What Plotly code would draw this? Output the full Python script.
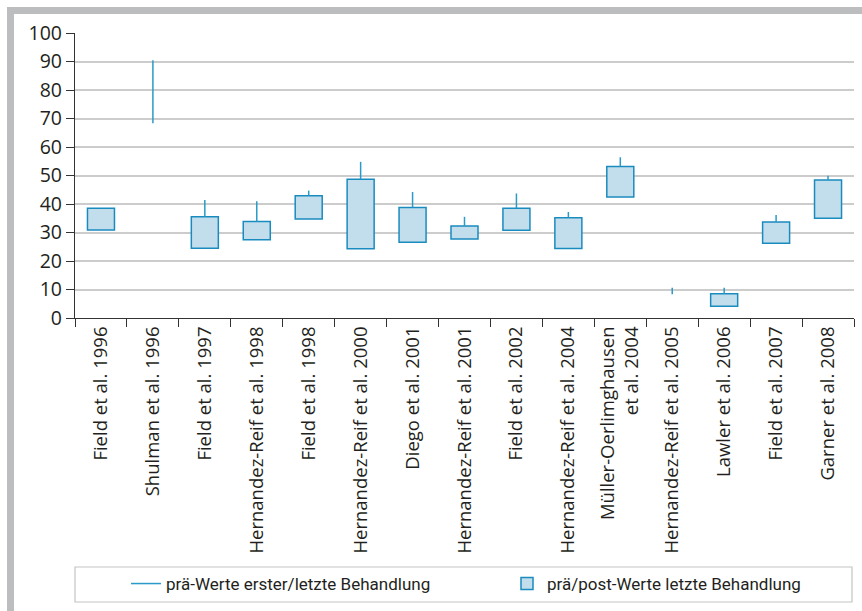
import plotly.graph_objects as go

categories = [
    "Field et al. 1996", "Shulman et al. 1996", "Field et al. 1997",
    "Hernandez-Reif et al. 1998", "Field et al. 1998", "Hernandez-Reif et al. 2000",
    "Diego et al. 2001", "Hernandez-Reif et al. 2001", "Field et al. 2002",
    "Hernandez-Reif et al. 2004", "Müller-Oerlimghausen<br>et al. 2004",
    "Hernandez-Reif et al. 2005", "Lawler et al. 2006", "Field et al. 2007",
    "Garner et al. 2008",
]
# prä/post-Werte letzte Behandlung (box bottom / top); None = no box
box_low = [30.9, None, 24.5, 27.5, 34.7, 24.3, 26.6, 27.7, 30.8, 24.4, 42.5, None, 4.1, 26.2, 35.0]
box_high = [38.5, None, 35.5, 33.9, 42.9, 48.7, 38.8, 32.3, 38.5, 35.2, 53.2, None, 8.5, 33.7, 48.4]
# prä-Werte erster/letzte Behandlung (line low / high); None = no line
line_low = [None, 68.3, 35.5, 33.9, 42.9, 48.7, 38.8, 32.3, 38.5, 35.2, 53.2, 8.3, 8.5, 33.7, 48.4]
line_high = [None, 90.4, 41.4, 41.0, 44.7, 54.8, 44.2, 35.5, 43.7, 37.2, 56.4, 10.6, 10.6, 36.1, 49.9]
y_ticks = [0, 10, 20, 30, 40, 50, 60, 70, 80, 90, 100]

LINE_C = "#2a9ac8"
BOX_FILL = "#c2deed"
BOX_LINE = "#1a8bbf"
TXT = "#231f20"

lx, ly = [], []
for c, lo, hi in zip(categories, line_low, line_high):
    if lo is None:
        continue
    lx += [c, c, None]
    ly += [lo, hi, None]

bx, bb, bh = [], [], []
for c, lo, hi in zip(categories, box_low, box_high):
    if lo is None:
        continue
    bx.append(c)
    bb.append(lo)
    bh.append(hi - lo)

fig = go.Figure()
fig.add_trace(go.Scatter(
    x=lx, y=ly, mode="lines", line=dict(color=LINE_C, width=1.5),
    name="prä-Werte erster/letzte Behandlung", hoverinfo="skip", legend="legend",
))
fig.add_trace(go.Bar(
    x=bx, y=bh, base=bb, width=0.52,
    marker=dict(color=BOX_FILL, line=dict(color=BOX_LINE, width=1.5)),
    name="prä/post-Werte letzte Behandlung", legend="legend2",
))

W, H = 862, 611
ml, mr, mt, mb = 75, 8, 33, 293
pw, ph = W - ml - mr, H - mt - mb

def px(x):
    return (x - ml) / pw

def py(y):
    return (H - mb - y) / ph

shapes = [
    # grey frame
    dict(type="rect", xref="paper", yref="paper", x0=px(7), x1=px(14), y0=py(611), y1=py(7),
         fillcolor="#bcbdbf", line=dict(width=0), layer="below"),
    dict(type="rect", xref="paper", yref="paper", x0=px(7), x1=px(862), y0=py(14), y1=py(7),
         fillcolor="#bcbdbf", line=dict(width=0), layer="below"),
    # legend border
    dict(type="rect", xref="paper", yref="paper", x0=px(75), x1=px(852), y0=py(602), y1=py(567),
         fillcolor="rgba(0,0,0,0)", line=dict(color="#c4c4c4", width=1.2)),
]

leg_font = dict(family="Liberation Sans Narrow, Arial Narrow, Roboto, sans-serif", size=17, color=TXT)

fig.update_layout(
    width=W, height=H,
    margin=dict(l=ml, r=mr, t=mt, b=mb, pad=0),
    paper_bgcolor="white", plot_bgcolor="white",
    font=dict(family="Open Sans, sans-serif", color=TXT),
    showlegend=True,
    legend=dict(
        orientation="h", x=px(126), y=py(584), xanchor="left", yanchor="middle",
        font=leg_font, bgcolor="rgba(0,0,0,0)",
    ),
    legend2=dict(
        orientation="h", x=px(507), y=py(584), xanchor="left", yanchor="middle",
        font=leg_font, bgcolor="rgba(0,0,0,0)",
    ),
    shapes=shapes,
)
fig.update_xaxes(
    type="category", categoryorder="array", categoryarray=categories,
    range=[-0.5, len(categories) - 0.5], automargin=False,
    tickson="boundaries", ticks="outside", ticklen=8, tickcolor="#333", tickwidth=1.2,
    showline=True, linecolor="#333", linewidth=1.2, showgrid=False,
    tickangle=-90, tickfont=dict(size=18.5, color=TXT, family="Open Sans, sans-serif"),
)
fig.update_yaxes(
    range=[0, 100], tickvals=y_ticks, ticks="outside", ticklen=8, tickcolor="#333", tickwidth=1.2,
    showline=True, linecolor="#333", linewidth=1.2, automargin=False,
    showgrid=True, gridcolor="#cccccc", gridwidth=1.5, zeroline=False,
    tickfont=dict(size=19.5, color=TXT, family="Open Sans, sans-serif"),
)

fig.write_html("out.html")
